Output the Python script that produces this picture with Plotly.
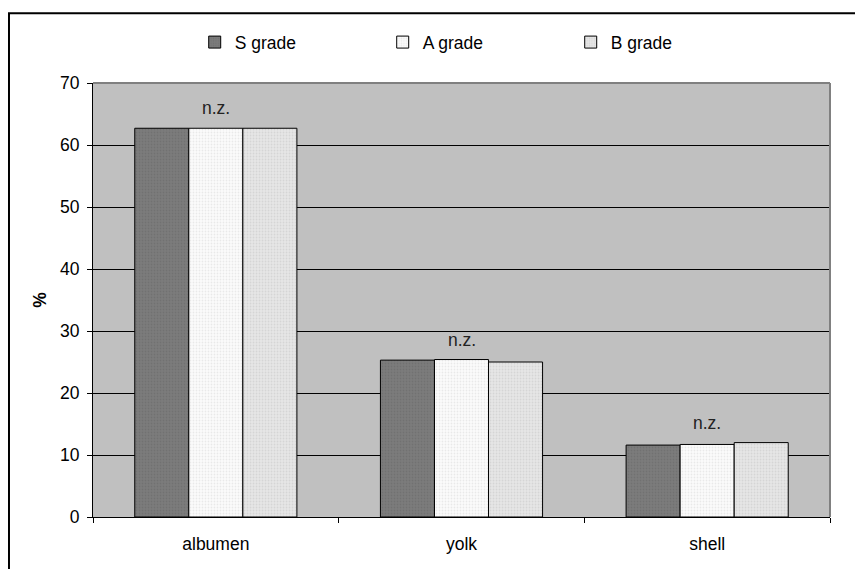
import plotly.graph_objects as go

categories = ["albumen", "yolk", "shell"]
series_names = ["S grade", "A grade", "B grade"]
s_grade = [62.7, 25.3, 11.6]
a_grade = [62.7, 25.4, 11.7]
b_grade = [62.7, 25.0, 12.0]
sig_labels = ["n.z.", "n.z.", "n.z."]
y_ticks = [0, 10, 20, 30, 40, 50, 60, 70]

FONT = "Liberation Sans, Arial, sans-serif"
FS = 17.5

styles = [
    dict(bg="#7c7c7c", fg="#666666"),
    dict(bg="#fbfbfb", fg="#d8d8d8"),
    dict(bg="#e6e6e6", fg="#c4c4c4"),
]

fig = go.Figure()
for name, vals, st in zip(series_names, [s_grade, a_grade, b_grade], styles):
    fig.add_trace(go.Bar(
        name=name, x=categories, y=vals,
        marker=dict(color=st["bg"], line=dict(color="black", width=1),
                    pattern=dict(shape=".", fgcolor=st["fg"], bgcolor=st["bg"],
                                 size=3, solidity=0.3)),
    ))

for cat, lab, a, b, c in zip(categories, sig_labels, s_grade, a_grade, b_grade):
    fig.add_annotation(x=cat, y=max(a, b, c), text=lab, showarrow=False,
                       yanchor="bottom", yshift=8,
                       font=dict(family=FONT, size=FS, color="#222222"))

# plot-area gray border on top and right
fig.add_shape(type="line", xref="paper", yref="paper", x0=0, x1=1, y0=1, y1=1,
              line=dict(color="#808080", width=2), layer="above")
fig.add_shape(type="line", xref="paper", yref="paper", x0=1, x1=1, y0=0, y1=1,
              line=dict(color="#808080", width=2), layer="above")
# outer chart frame
fig.add_shape(type="rect", xref="paper", yref="paper",
              x0=-0.114, x1=1.043, y0=-0.3, y1=1.161,
              line=dict(color="black", width=2), layer="above")

fig.update_layout(
    width=855, height=561,
    margin=dict(l=85, r=33, t=75, b=52),
    paper_bgcolor="white", plot_bgcolor="#c0c0c0",
    barmode="group", bargap=0.34, bargroupgap=0,
    font=dict(family=FONT, size=FS, color="black"),
    showlegend=True,
    legend=dict(orientation="h", x=0.138, xanchor="left", y=1.094, yanchor="middle",
                entrywidth=143, entrywidthmode="pixels", itemwidth=30,
                font=dict(family=FONT, size=FS), bgcolor="rgba(0,0,0,0)",
                traceorder="normal"),
    xaxis=dict(showline=True, linecolor="black", linewidth=1,
               ticks="outside", tickson="boundaries", ticklen=5, tickcolor="black",
               showgrid=False, ticklabelstandoff=11,
               tickfont=dict(family=FONT, size=FS)),
    yaxis=dict(range=[0, 70], tickvals=y_ticks, showline=True, linecolor="black",
               linewidth=1, ticks="outside", ticklen=5, tickcolor="black",
               showgrid=True, gridcolor="black", gridwidth=1, zeroline=False,
               ticklabelstandoff=4,
               tickfont=dict(family=FONT, size=FS),
               title=dict(text="<b>%</b>", font=dict(family=FONT, size=FS), standoff=8)),
)

fig.write_html("out.html")
